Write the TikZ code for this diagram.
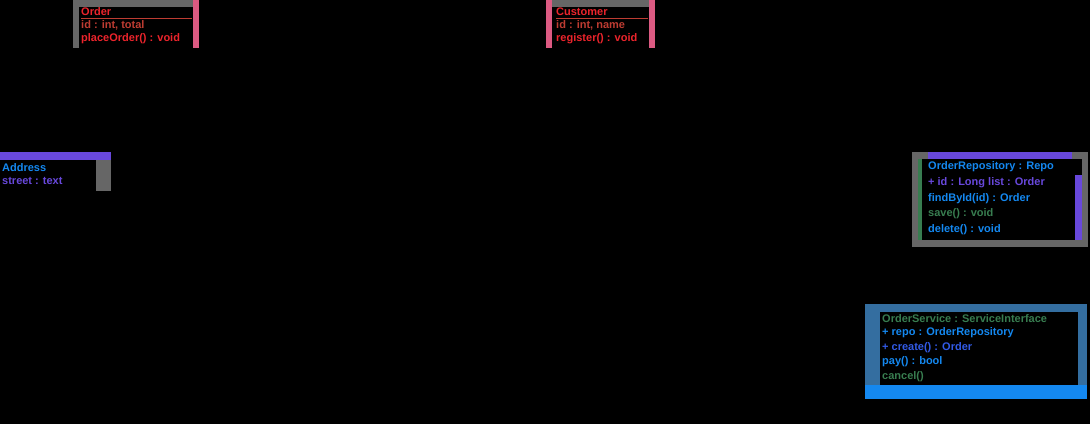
\documentclass[tikz,border=0pt]{standalone}
\usepackage{fontspec}
\setmainfont{Liberation Sans}
\usetikzlibrary{positioning}
\definecolor{boxred}{RGB}{236,36,44}
\definecolor{dimred}{RGB}{190,60,50}
\definecolor{edgepink}{RGB}{220,90,130}
\definecolor{framegray}{RGB}{102,102,102}
\definecolor{boxpurple}{RGB}{104,72,220}
\definecolor{boxblue}{RGB}{20,136,240}
\definecolor{deepblue}{RGB}{50,90,230}
\definecolor{steelblue}{RGB}{52,110,160}
\definecolor{boxgreen}{RGB}{56,125,80}
\tikzset{
	row/.style={inner sep=0pt, anchor=west, font=\bfseries\fontsize{11}{13}\selectfont},
	redrow/.style={row, text=boxred},
	dimrow/.style={row, text=dimred},
	bluerow/.style={row, text=boxblue},
	purplerow/.style={row, text=boxpurple},
	greenrow/.style={row, text=boxgreen},
}

\begin{document}
\begin{tikzpicture}[x=1pt, y=-1pt]
		%%%%% START %%%%%
		
		\fill[black] (0, 0) rectangle (1090, 424);
		\useasboundingbox (0, 0) rectangle (1090, 424);
		
		% top left table
		\fill[framegray] (73, 0) rectangle (199, 7);
		\fill[framegray] (73, 0) rectangle (79, 48);
		\fill[edgepink] (193, 0) rectangle (199, 48);
		\node[redrow] (orderName) at (81, 12) {Order};
		\draw[dimred, line width=0.6pt] (81, 18) -- (192, 18);
		\node[dimrow, below=4pt of orderName.south west, anchor=north west] (orderKey) {id : int, total};
		\node[redrow, below=3pt of orderKey.south west, anchor=north west] (orderOp) {placeOrder() : void};
		
		% top middle table
		\fill[framegray] (546, 0) rectangle (655, 7);
		\fill[edgepink] (546, 0) rectangle (552, 48);
		\fill[edgepink] (649, 0) rectangle (655, 48);
		\node[redrow] (custName) at (556, 12) {Customer};
		\draw[dimred, line width=0.6pt] (556, 18) -- (648, 18);
		\node[dimrow, below=4pt of custName.south west, anchor=north west] (custKey) {id : int, name};
		\node[redrow, below=3pt of custKey.south west, anchor=north west] (custOp) {register() : void};
		
		% left table
		\fill[boxpurple] (0, 152) rectangle (111, 160);
		\fill[framegray] (96, 160) rectangle (111, 191);
		\node[bluerow] (addrName) at (2, 168) {Address};
		\node[purplerow, below=5pt of addrName.south west, anchor=north west] (addrKey) {street : text};
		
		% right table
		\fill[framegray] (912, 152) rectangle (1088, 247);
		\fill[black] (918, 159) rectangle (1082, 240);
		\fill[boxpurple] (928, 152) rectangle (1072, 159);
		\fill[boxgreen] (918, 159) rectangle (922, 240);
		\fill[boxpurple] (1075, 175) rectangle (1082, 240);
		\node[bluerow] (repoName) at (928, 167) {OrderRepository : Repo};
		\node[purplerow, below=5pt of repoName.south west, anchor=north west] (repoKey) {+ id : Long  list : Order};
		\node[bluerow, below=5pt of repoKey.south west, anchor=north west] (repoFind) {findById(id) : Order};
		\node[greenrow, below=5pt of repoFind.south west, anchor=north west] (repoSave) {save() : void};
		\node[bluerow, below=5pt of repoSave.south west, anchor=north west] (repoDel) {delete() : void};
		
		% bottom right table
		\fill[steelblue] (865, 304) rectangle (1087, 399);
		\fill[black] (880, 312) rectangle (1078, 385);
		\fill[boxblue] (865, 385) rectangle (1087, 399);
		\node[greenrow] (servName) at (882, 319) {OrderService : ServiceInterface};
		\node[bluerow, below=4pt of servName.south west, anchor=north west] (servKey) {+ repo : OrderRepository};
		\node[deepblue, row, below=4pt of servKey.south west, anchor=north west] (servNew) {+ create() : Order};
		\node[bluerow, below=4pt of servNew.south west, anchor=north west] (servPay) {pay() : bool};
		\node[greenrow, below=4pt of servPay.south west, anchor=north west] (servCan) {cancel()};
		
		%%%%% END %%%%%
	\end{tikzpicture}
\end{document}
